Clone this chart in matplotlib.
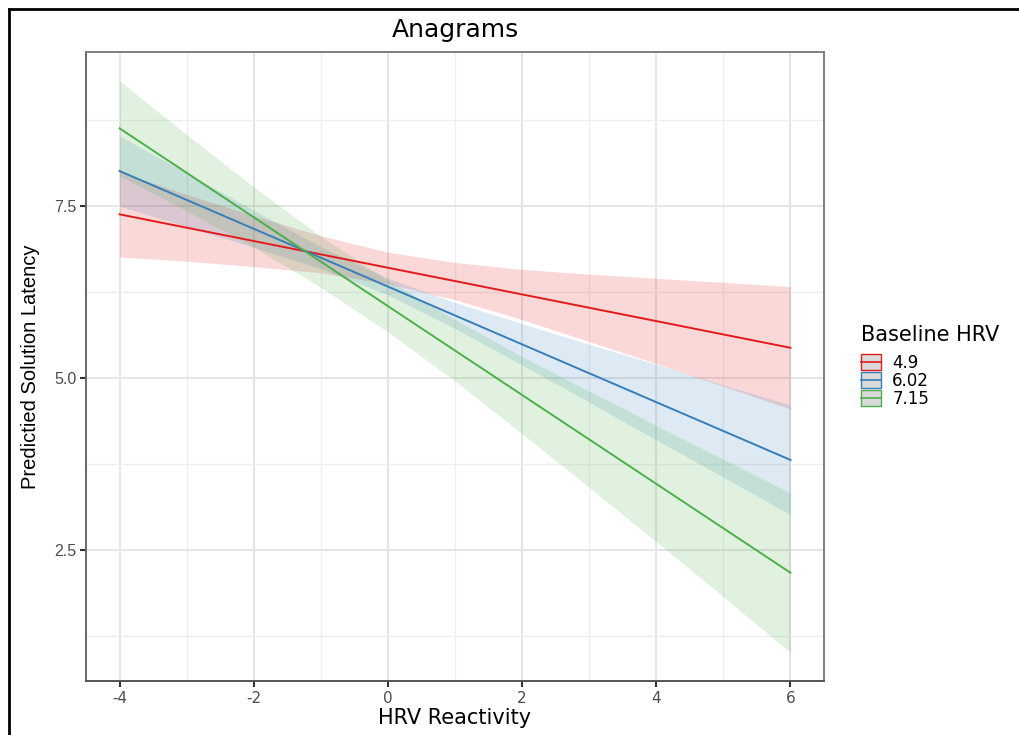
import matplotlib
matplotlib.use("Agg")
import matplotlib.pyplot as plt
from matplotlib.patches import Rectangle
from matplotlib.lines import Line2D
from matplotlib.legend_handler import HandlerBase

plt.rcParams['font.family'] = ['DejaVu Sans']

# ---- data ----
title = "Anagrams"
x_label = "HRV Reactivity"
y_label = "Predictied Solution Latency"
legend_title = "Baseline HRV"
groups = ["4.9", "6.02", "7.15"]
colors = ["#E41A1C", "#377EB8", "#4DAF4A"]

line_x = [-4, 6]
fit_49 = [7.38, 5.44]
fit_602 = [8.01, 3.81]
fit_715 = [8.63, 2.17]

band_x = [-4, -3, -2, -1, 0, 1, 2, 3, 4, 5, 6]
lo_49 = [6.76, 6.70, 6.62, 6.53, 6.37, 6.14, 5.85, 5.53, 5.21, 4.88, 4.55]
hi_49 = [8.00, 7.67, 7.36, 7.07, 6.83, 6.68, 6.58, 6.51, 6.45, 6.39, 6.33]
lo_602 = [7.50, 7.20, 6.90, 6.59, 6.21, 5.72, 5.19, 4.65, 4.10, 3.56, 3.01]
hi_602 = [8.52, 7.98, 7.44, 6.91, 6.45, 6.10, 5.79, 5.49, 5.20, 4.90, 4.61]
lo_715 = [7.94, 7.43, 6.90, 6.32, 5.67, 4.96, 4.19, 3.41, 2.62, 1.82, 1.01]
hi_715 = [9.32, 8.54, 7.78, 7.06, 6.42, 5.85, 5.31, 4.81, 4.31, 3.82, 3.33]

x_ticks = [-4, -2, 0, 2, 4, 6]
y_ticks = [2.5, 5.0, 7.5]
y_tick_labels = ["2.5", "5.0", "7.5"]

fits = [fit_49, fit_602, fit_715]
los = [lo_49, lo_602, lo_715]
his = [hi_49, hi_602, hi_715]


class BoxLineHandler(HandlerBase):
    def create_artists(self, legend, orig_handle, xdescent, ydescent,
                       width, height, fontsize, trans):
        c = orig_handle.get_color()
        r = Rectangle((-xdescent, -ydescent), width, height,
                      facecolor='#DADADA', edgecolor=c, linewidth=1.0,
                      transform=trans)
        ym = -ydescent + height / 2
        ln = Line2D([-xdescent, -xdescent + width], [ym, ym], color=c,
                    linewidth=1.2, transform=trans)
        return [r, ln]


# ---- figure ----
W, H = 1019, 735
fig = plt.figure(figsize=(W / 100, H / 100), dpi=100)
ax = fig.add_axes([86 / W, 1 - 681 / H, 738 / W, 629 / H])

for lo, hi, c in zip(los, his, colors):
    ax.fill_between(band_x, lo, hi, color=c, alpha=0.17, linewidth=0, zorder=2)
for fit, c in zip(fits, colors):
    ax.plot(line_x, fit, color=c, linewidth=1.4, zorder=3)

ax.set_xlim(-4.5, 6.5)
ax.set_ylim(0.596, 9.74)
ax.set_xticks(x_ticks)
ax.set_xticklabels([str(t) for t in x_ticks])
ax.set_yticks(y_ticks)
ax.set_yticklabels(y_tick_labels)
ax.set_xticks([-3, -1, 1, 3, 5], minor=True)
ax.set_yticks([1.25, 3.75, 6.25, 8.75], minor=True)
ax.grid(True, which='major', color='#E3E3E3', linewidth=1.3, zorder=0)
ax.grid(True, which='minor', color='#EEEEEE', linewidth=1.0, zorder=0)
ax.set_axisbelow(True)
ax.tick_params(which='minor', length=0)
ax.tick_params(which='major', length=4, width=1.5, color='#333333',
               labelcolor='#4D4D4D', pad=3)
ax.tick_params(axis='x', labelsize=11)
ax.tick_params(axis='y', labelsize=11.5)
for lab in ax.get_yticklabels():
    lab.set_fontfamily('Liberation Sans')
for s in ax.spines.values():
    s.set_color('#7F7F7F')
    s.set_linewidth(1.4)
ax.spines['left'].set_color('#666666')
ax.spines['bottom'].set_color('#555555')

ax.set_title(title, fontsize=18, pad=11)
ax.set_xlabel(x_label, fontsize=15)
ax.xaxis.label.set_va('center')
ax.xaxis.set_label_coords(0.5, (681 - 718) / 629)
ax.set_ylabel(y_label, fontsize=14.5, family='Liberation Sans')
ax.yaxis.label.set_va('center')
ax.yaxis.set_label_coords((31 - 86) / 738, 0.5)

handles = [Line2D([], [], color=c) for c in colors]
leg = fig.legend(handles, groups, title=legend_title, loc='upper left',
                 bbox_to_anchor=(848 / W, 1 - 312 / H), frameon=False,
                 handler_map={Line2D: BoxLineHandler()},
                 fontsize=12, title_fontsize=15, handlelength=1.15,
                 handleheight=1.15, labelspacing=0.0, handletextpad=0.7,
                 borderpad=0.3)
leg._legend_box.align = "left"
leg._legend_box.sep = 6

# outer border (cropped on right and bottom)
fig.add_artist(Line2D([8.5 / W, 1.0], [1 - 8.5 / H, 1 - 8.5 / H],
                      transform=fig.transFigure, color='black', linewidth=2))
fig.add_artist(Line2D([8.5 / W, 8.5 / W], [0.0, 1 - 8.5 / H],
                      transform=fig.transFigure, color='black', linewidth=2))

fig.savefig("out.png", dpi=100)
